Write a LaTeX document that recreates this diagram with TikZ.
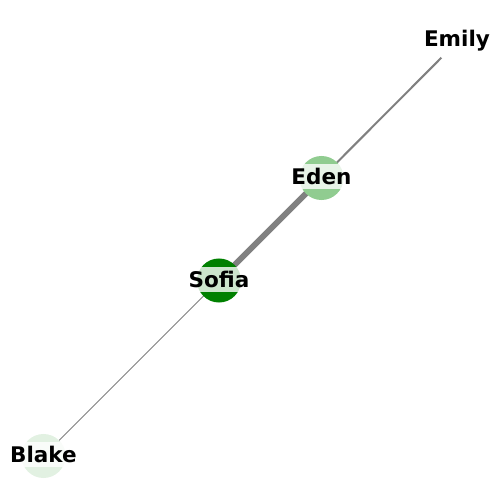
\documentclass[tikz,border=0pt]{standalone}
\usepackage{fontspec}
\setmainfont{DejaVu Sans}
\definecolor{edgegray}{HTML}{808080}
\definecolor{cEden}{RGB}{144,204,144}
\definecolor{cSofia}{HTML}{008000}
\definecolor{cBlake}{RGB}{226,241,226}
\begin{document}
\begin{tikzpicture}[x=0.72bp,y=-0.72bp,
  vert/.style={circle,minimum size=31.7bp,inner sep=0pt,draw=none},
  lbl/.style={fill=white,fill opacity=0.8,text opacity=1,inner xsep=1.5bp,inner ysep=0pt,minimum height=18bp,yshift=1bp,font=\bfseries\fontsize{15.5bp}{18bp}\selectfont},
  edge/.style={draw=edgegray,line cap=butt}]
\useasboundingbox (0,0) rectangle (500,500);
\coordinate (pEmily) at (457,42);
\coordinate (pEden) at (321.5,178);
\coordinate (pSofia) at (219,280.5);
\coordinate (pBlake) at (43.5,456);
\draw[edge,line width=1.45bp] (pEmily) -- (pEden);
\draw[edge,line width=4.1bp] (pEden) -- (pSofia);
\draw[edge,line width=0.75bp] (pSofia) -- (pBlake);
\node[vert,fill=white] (Emily) at (pEmily) {};
\node[vert,fill=cEden] (Eden) at (pEden) {};
\node[vert,fill=cSofia] (Sofia) at (pSofia) {};
\node[vert,fill=cBlake] (Blake) at (pBlake) {};
\node[lbl] (lEmily) at (pEmily) {Emily};
\node[lbl] (lEden) at (pEden) {Eden};
\node[lbl] (lSofia) at (pSofia) {Sofia};
\node[lbl] (lBlake) at (pBlake) {Blake};
\end{tikzpicture}
\end{document}
